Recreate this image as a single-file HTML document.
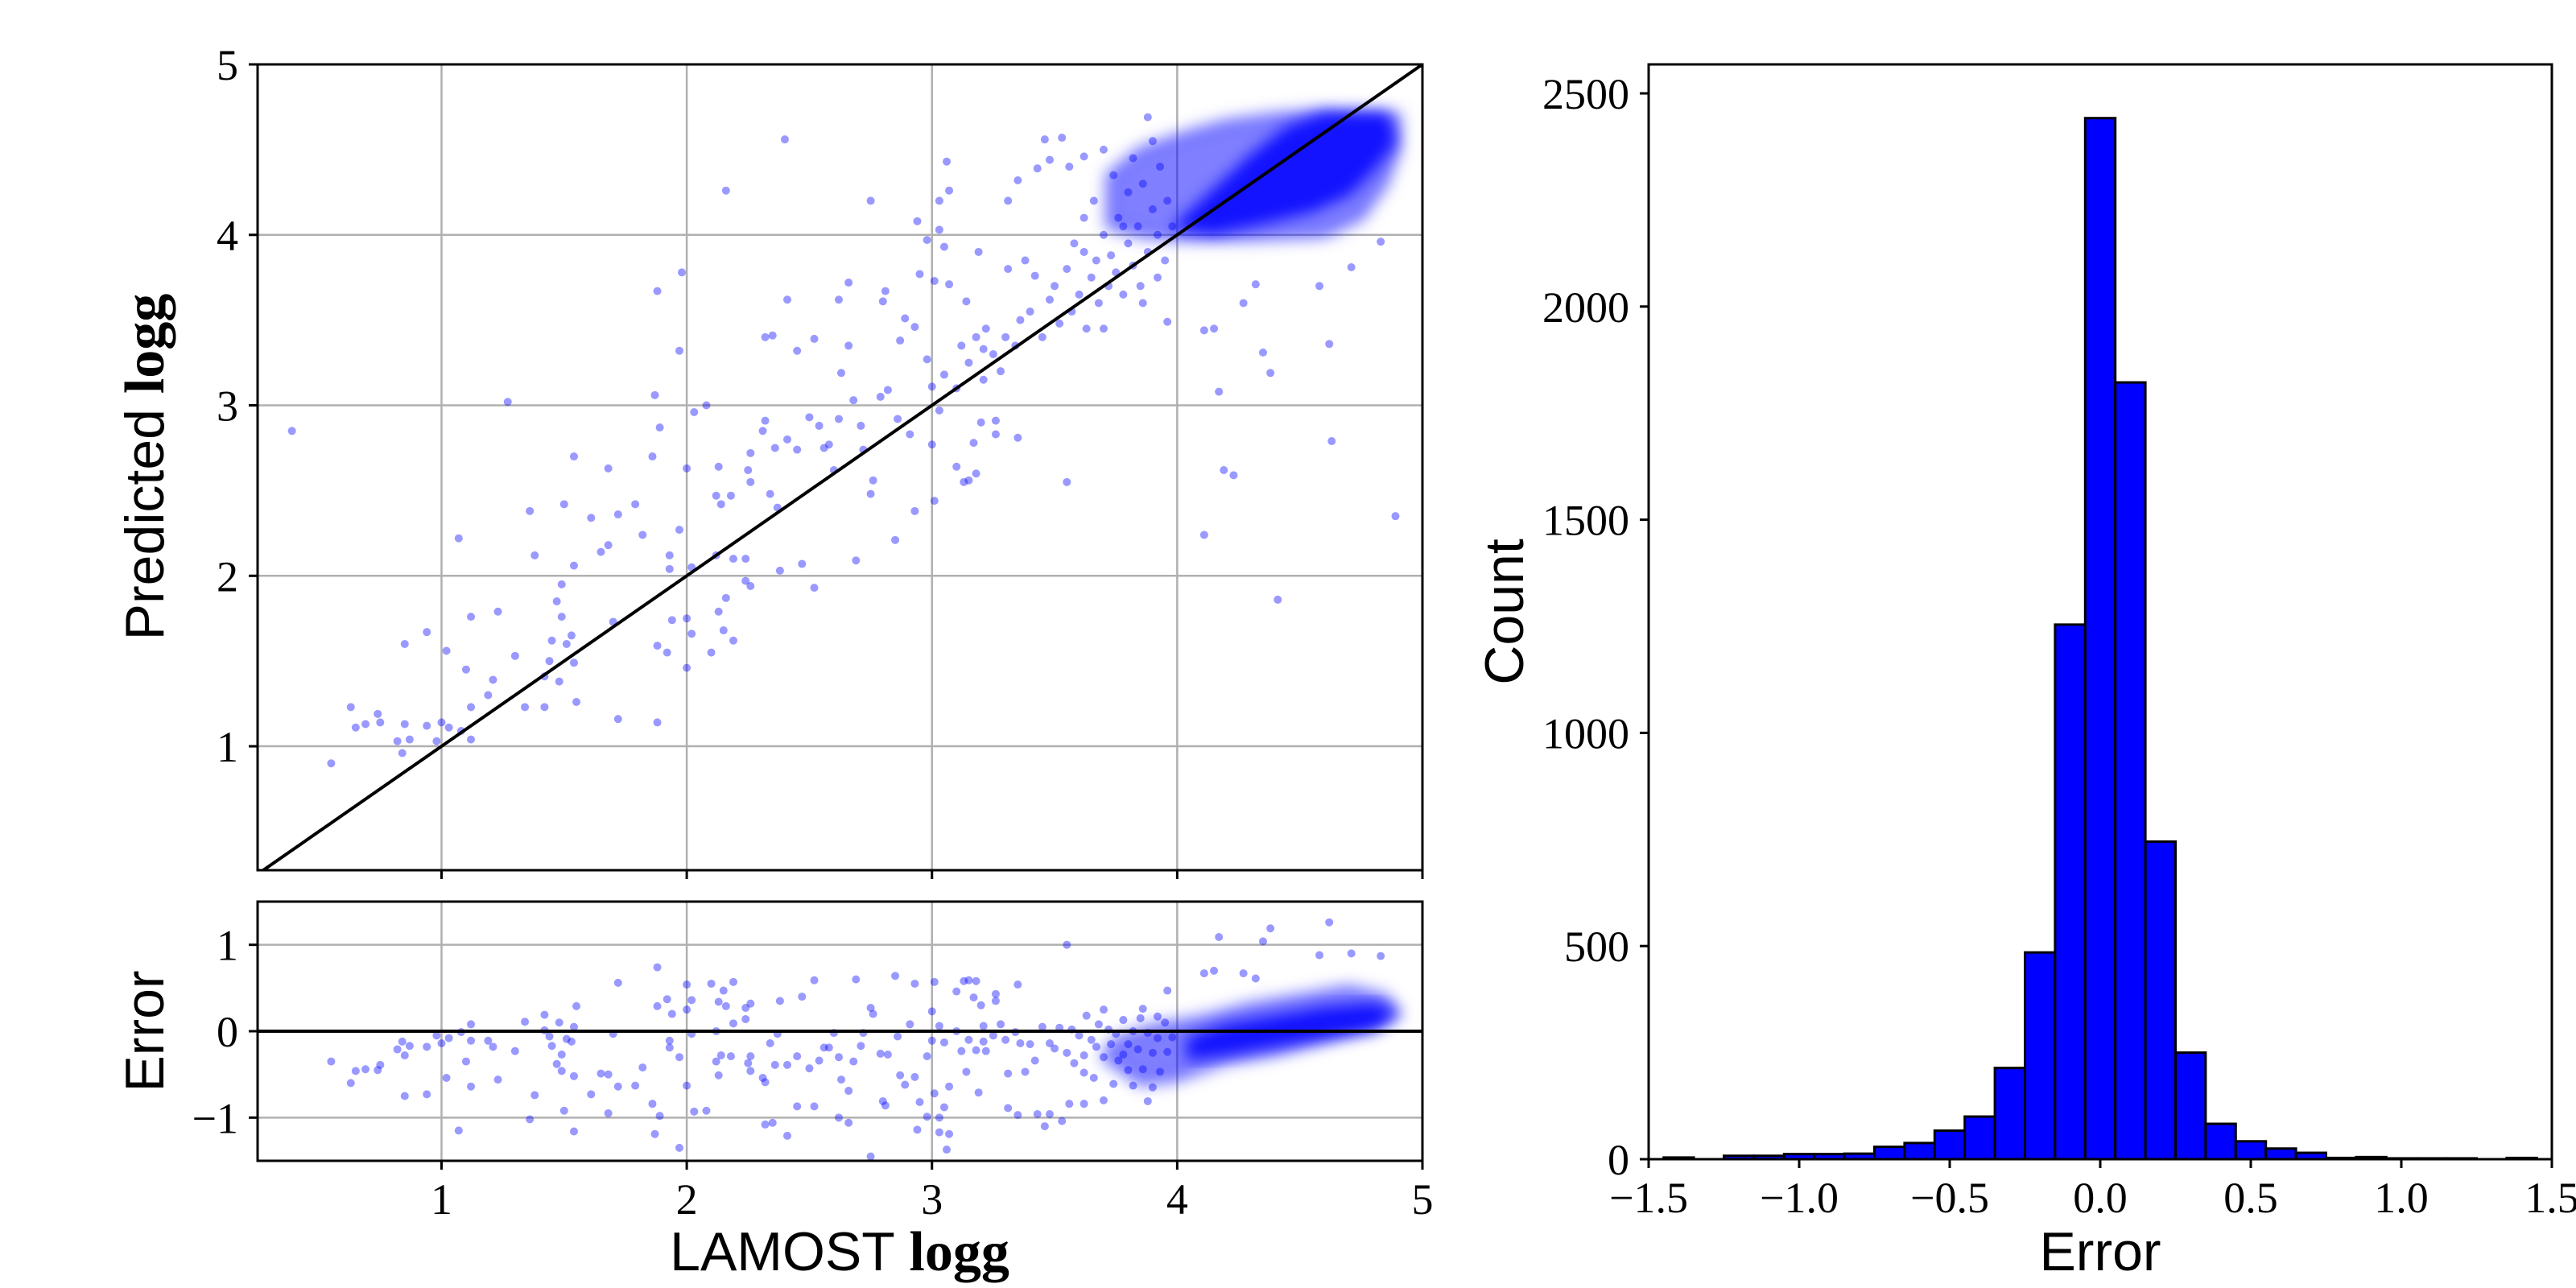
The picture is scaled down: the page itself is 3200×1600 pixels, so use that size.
<!DOCTYPE html>
<html><head><meta charset="utf-8"><style>
html,body{margin:0;padding:0;background:#fff;}
svg{display:block;}
.tick{font-family:"Liberation Serif",serif;font-size:54px;fill:#000;}
.lab{font-family:"Liberation Sans",sans-serif;font-size:68px;fill:#000;}
.labb{font-family:"Liberation Serif",serif;font-weight:bold;font-size:70px;}
</style></head><body>
<svg id="fig" width="3200" height="1600" viewBox="0 0 3200 1600" xmlns="http://www.w3.org/2000/svg">
<defs>
<clipPath id="clipMain"><rect x="320" y="80" width="1447" height="1001"/></clipPath>
<clipPath id="clipErr"><rect x="320" y="1120" width="1447" height="322"/></clipPath>
<filter id="soft" x="-20%" y="-20%" width="140%" height="140%"><feGaussianBlur stdDeviation="9"/></filter>
</defs>
<g id="main"></g>
<g id="err"></g>
<g id="hist"></g>
<text class="lab" transform="translate(203,580) rotate(-90)" text-anchor="middle">Predicted <tspan class="labb">logg</tspan></text>
<text class="lab" transform="translate(203,1281) rotate(-90)" text-anchor="middle">Error</text>
<text class="lab" x="1043" y="1578" text-anchor="middle">LAMOST <tspan class="labb">logg</tspan></text>
<text class="lab" transform="translate(1892,760) rotate(-90)" text-anchor="middle">Count</text>
<text class="lab" x="2609" y="1578" text-anchor="middle">Error</text>
</svg>
<script>
const scatterTrue=[0.39,0.55,0.63,0.65,0.69,0.74,0.75,0.82,0.84,0.85,0.85,0.87,0.94,0.94,0.98,1.00,1.02,1.03,1.07,1.08,1.10,1.12,1.12,1.12,1.19,1.21,1.23,1.27,1.30,1.34,1.36,1.38,1.42,1.42,1.44,1.45,1.47,1.48,1.49,1.50,1.49,1.51,1.53,1.54,1.54,1.54,1.55,1.61,1.65,1.68,1.68,1.70,1.72,1.72,1.79,1.82,1.86,1.87,1.88,1.88,1.88,1.89,1.92,1.93,1.93,1.94,1.97,1.97,1.98,2.00,2.00,2.00,2.02,2.02,2.03,2.08,2.10,2.12,2.12,2.13,2.13,2.14,2.15,2.16,2.16,2.18,2.19,2.19,2.24,2.24,2.25,2.26,2.26,2.26,2.31,2.32,2.32,2.34,2.35,2.36,2.37,2.38,2.40,2.41,2.41,2.45,2.45,2.47,2.50,2.52,2.52,2.54,2.56,2.58,2.60,2.62,2.62,2.63,2.66,2.66,2.68,2.69,2.71,2.72,2.75,2.75,2.76,2.79,2.80,2.81,2.82,2.85,2.86,2.87,2.89,2.91,2.93,2.93,2.94,2.95,2.98,2.98,3.00,3.00,3.01,3.01,3.03,3.03,3.03,3.05,3.05,3.06,3.07,3.07,3.10,3.13,3.14,3.15,3.17,3.18,3.19,3.20,3.21,3.21,3.26,3.26,3.31,3.31,3.34,3.35,3.35,3.42,3.43,3.46,3.48,3.53,3.55,3.62,3.88,3.96,4.11,4.11,4.15,4.17,4.19,4.23,4.27,4.32,4.35,4.38,4.41,4.58,4.62,4.63,4.71,4.83,4.89,
3.40,3.45,3.48,3.50,3.52,3.55,3.57,3.60,3.62,3.63,3.65,3.67,3.68,3.70,3.72,3.73,3.75,3.76,3.78,3.80,3.80,3.82,3.84,3.85,3.86,3.88,3.90,3.92,3.93,3.95,3.96,3.98,3.36,3.30,3.25,3.22,3.28,3.15,3.18,3.10,3.12,3.38,3.58,3.66,3.74,3.82,3.56,3.62,3.70,3.90,3.78,3.86,3.92,3.70];
const scatterPred=[2.85,0.90,1.23,1.11,1.13,1.19,1.14,1.03,0.96,1.60,1.13,1.04,1.67,1.12,1.03,1.14,1.56,1.11,2.22,1.09,1.45,1.76,1.23,1.04,1.30,1.39,1.79,3.02,1.53,1.23,2.38,2.12,1.23,1.41,1.50,1.62,1.85,1.38,1.95,2.42,1.76,1.60,1.65,1.49,2.06,2.70,1.26,2.34,2.14,2.63,2.18,1.73,2.36,1.16,2.42,2.24,2.70,3.06,3.67,1.14,1.59,2.87,1.55,2.12,2.04,1.74,3.32,2.27,3.78,2.63,1.75,1.46,1.66,2.05,2.96,3.00,1.55,2.47,2.12,2.64,1.79,2.42,1.68,4.26,1.87,2.47,2.10,1.62,1.97,2.10,2.62,1.94,2.72,2.55,2.85,2.91,3.40,2.48,3.41,2.75,2.40,2.03,4.56,3.62,2.80,3.32,2.74,2.07,2.93,3.39,1.93,2.88,2.75,2.77,2.62,3.62,2.92,3.19,3.72,3.35,3.03,2.09,2.88,2.74,4.20,2.48,2.56,3.05,3.61,3.67,3.09,2.21,2.92,3.38,3.51,2.83,3.46,2.38,4.08,3.77,3.97,3.27,3.11,2.77,2.44,3.73,4.03,4.20,2.97,3.18,3.93,4.43,4.26,3.71,2.64,2.55,3.61,2.56,2.78,2.60,3.90,2.90,3.33,3.15,2.91,2.83,4.20,3.80,3.35,4.32,2.81,3.76,4.39,4.56,4.44,4.57,2.55,4.46,4.69,3.49,2.24,3.44,3.45,3.08,2.62,2.59,3.60,3.71,3.31,3.19,1.86,3.70,3.36,2.79,3.81,3.96,2.35,
3.55,3.40,3.62,3.70,3.48,3.80,3.55,3.65,3.90,3.45,3.75,3.85,3.60,4.00,3.70,3.88,3.78,4.10,3.65,3.95,4.25,3.82,4.05,3.70,4.30,3.90,4.15,4.00,4.40,3.85,4.20,4.05,3.50,3.40,3.30,3.45,3.20,3.25,3.40,3.10,3.35,3.85,3.95,4.20,4.35,4.45,4.40,4.10,4.50,4.55,4.05,3.60,3.75,3.45];
const denseOuterX=[3.72,3.72,3.85,4.05,4.2,4.4,4.6,4.9,4.9,4.85,4.75,4.6,4.3,4.0,3.85];
const denseOuterY=[4.05,4.35,4.5,4.6,4.66,4.7,4.72,4.7,4.5,4.3,4.1,4.0,3.98,3.98,4.0];
const denseInnerX=[4.0,4.15,4.3,4.45,4.6,4.85,4.88,4.8,4.7,4.55,4.35,4.15];
const denseInnerY=[4.05,4.25,4.45,4.62,4.7,4.7,4.55,4.4,4.25,4.15,4.08,4.02];
const errOuterX=[3.7,3.75,3.9,4.1,4.3,4.5,4.7,4.85,4.9,4.8,4.6,4.4,4.2,4.0,3.85];
const errOuterE=[-0.3,-0.1,0.05,0.15,0.3,0.4,0.5,0.4,0.2,0.05,-0.1,-0.25,-0.35,-0.55,-0.6];
const errInnerX=[4.05,4.2,4.4,4.6,4.8,4.88,4.8,4.6,4.4,4.2,4.05];
const errInnerE=[-0.1,0.05,0.15,0.25,0.3,0.2,0.05,-0.05,-0.15,-0.25,-0.3];
const histCenters=[-1.4,-1.3,-1.2,-1.1,-1.0,-0.9,-0.8,-0.7,-0.6,-0.5,-0.4,-0.3,-0.2,-0.1,0.0,0.1,0.2,0.3,0.4,0.5,0.6,0.7,0.8,0.9,1.0,1.1,1.2,1.3,1.4];
const histCounts=[4,0,8,8,12,12,13,29,38,67,100,214,485,1254,2442,1822,745,250,83,42,25,15,3,5,2,2,2,0,3];
const mainTicks=[1,2,3,4,5];
const errTicks=[-1,0,1];
const histXTicks=["\u22121.5","\u22121.0","\u22120.5","0.0","0.5","1.0","1.5"];
const histXTickVals=[-1.5,-1.0,-0.5,0,0.5,1.0,1.5];
const histYTicks=[0,500,1000,1500,2000,2500];

const NS="http://www.w3.org/2000/svg";
function mk(tag,attrs,parent){const e=document.createElementNS(NS,tag);for(const k in attrs)e.setAttribute(k,attrs[k]);parent.appendChild(e);return e;}
const L=320,R=1767,MT=80,MB=1081,ET=1120,EB=1442;
const xMin=0.25,xMax=5,yMin=0.273,yMax=5;
const sx=v=>L+(v-xMin)/(xMax-xMin)*(R-L);
const sy=v=>MB-(v-yMin)/(yMax-yMin)*(MB-MT);
const se=v=>ET+(1.5-v)/3*(EB-ET);
const HL=2048,HR=3170,HT=80,HB=1440;
const hx=v=>HL+(v+1.5)/3*(HR-HL);
const hy=c=>HB-c*0.5296;

const main=document.getElementById('main');
const err=document.getElementById('err');
const hist=document.getElementById('hist');
mainTicks.forEach(t=>{
  let g=mk('line',{x1:sx(t),x2:sx(t),y1:MT,y2:MB,stroke:'#b0b0b0','stroke-width':2.5},main);
  
  
  g=mk('line',{x1:L,x2:R,y1:sy(t),y2:sy(t),stroke:'#b0b0b0','stroke-width':2.5},main);
  
  
  g=mk('line',{x1:sx(t),x2:sx(t),y1:ET,y2:EB,stroke:'#b0b0b0','stroke-width':2.5},err);
  
  
});
errTicks.forEach(t=>{
  const g=mk('line',{x1:L,x2:R,y1:se(t),y2:se(t),stroke:'#b0b0b0','stroke-width':2.5},err);
  
  
});
function poly(xs,ys,fx,fy,op,parent,name){
  const pts=xs.map((x,i)=>fx(x)+','+fy(ys[i])).join(' ');
  const p=mk('polygon',{points:pts,fill:'#0000ff','fill-opacity':op,stroke:'#0000ff','stroke-opacity':op*0.5,'stroke-width':14,'stroke-linejoin':'round',filter:'url(#soft)'},parent);
  
  
}
const gm=mk('g',{'clip-path':'url(#clipMain)'},main);
const ge=mk('g',{'clip-path':'url(#clipErr)'},err);
poly(denseOuterX,denseOuterY,sx,sy,0.5,gm,'dense-cluster-outer');
poly(denseInnerX,denseInnerY,sx,sy,0.85,gm,'dense-cluster-core');
poly(errOuterX,errOuterE,sx,se,0.5,ge,'error-dense-cluster-outer');
poly(errInnerX,errInnerE,sx,se,0.85,ge,'error-dense-cluster-core');
scatterTrue.forEach((x,i)=>{
  const y=scatterPred[i];
  let c=mk('circle',{cx:sx(x),cy:sy(y),r:5,fill:'#0000ff','fill-opacity':0.4},gm);
  
  
  c=mk('circle',{cx:sx(x),cy:se(x-y),r:5,fill:'#0000ff','fill-opacity':0.4},ge);
  
  
});
let dl=mk('line',{x1:sx(xMin),y1:sy(xMin),x2:sx(xMax),y2:sy(xMax),stroke:'#000','stroke-width':4},gm);


dl=mk('line',{x1:L,x2:R,y1:se(0),y2:se(0),stroke:'#000','stroke-width':4},ge);


function frame(x,y,w,h,parent,name){const r=mk('rect',{x:x,y:y,width:w,height:h,fill:'none',stroke:'#000','stroke-width':3},parent);}
frame(L,MT,R-L,MB-MT,main,'scatter-frame');
frame(L,ET,R-L,EB-ET,err,'error-frame');
mainTicks.forEach(t=>{
  mk('line',{x1:sx(t),x2:sx(t),y1:MB,y2:MB+11,stroke:'#000','stroke-width':3},main);
  mk('line',{x1:L-11,x2:L,y1:sy(t),y2:sy(t),stroke:'#000','stroke-width':3},main);
  mk('line',{x1:sx(t),x2:sx(t),y1:EB,y2:EB+11,stroke:'#000','stroke-width':3},err);
  let tx=mk('text',{x:L-24,y:sy(t)+19,'text-anchor':'end',class:'tick'},main);
  tx.textContent=t;
  
  
  tx=mk('text',{x:sx(t),y:EB+66,'text-anchor':'middle',class:'tick'},err);
  tx.textContent=t;
  
  
});
errTicks.forEach(t=>{
  mk('line',{x1:L-11,x2:L,y1:se(t),y2:se(t),stroke:'#000','stroke-width':3},err);
  const tx=mk('text',{x:L-24,y:se(t)+19,'text-anchor':'end',class:'tick'},err);
  tx.textContent=t<0?'\u2212'+Math.abs(t):t;
  
  
});
histCenters.forEach((c,i)=>{
  if(histCounts[i]<=0)return;
  const b=mk('rect',{x:hx(c-0.05),y:hy(histCounts[i]),width:hx(c+0.05)-hx(c-0.05),height:HB-hy(histCounts[i]),fill:'#0000ff',stroke:'#000','stroke-width':3},hist);
  
  
});
frame(HL,HT,HR-HL,HB-HT,hist,'histogram-frame');
histXTickVals.forEach((v,i)=>{
  mk('line',{x1:hx(v),x2:hx(v),y1:HB,y2:HB+11,stroke:'#000','stroke-width':3},hist);
  const tx=mk('text',{x:hx(v),y:HB+66,'text-anchor':'middle',class:'tick'},hist);
  tx.textContent=histXTicks[i];
  
  
});
histYTicks.forEach(v=>{
  mk('line',{x1:HL-11,x2:HL,y1:hy(v),y2:hy(v),stroke:'#000','stroke-width':3},hist);
  const tx=mk('text',{x:HL-24,y:hy(v)+19,'text-anchor':'end',class:'tick'},hist);
  tx.textContent=v;
  
  
});
</script>
</body></html>
